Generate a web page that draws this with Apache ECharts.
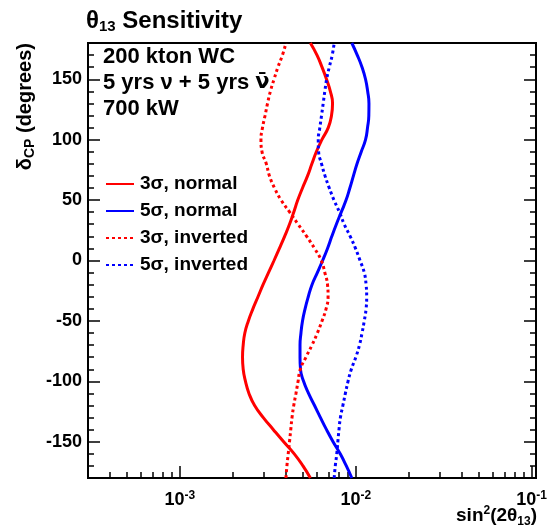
<!DOCTYPE html>
<html>
<head>
<meta charset="utf-8">
<script src="https://cdn.jsdelivr.net/npm/echarts@6/dist/echarts.min.js"></script>
<style>
  html, body { margin: 0; padding: 0; background: #fff; }
  #chart { width: 552px; height: 529px; }
</style>
</head>
<body>
<div id="chart"></div>
<script>
// delta_CP grid (degrees) and sin^2(2theta13) sensitivity
const deltaCP = [-180, -170, -160, -150, -140, -130, -120, -110, -100, -90, -80, -70, -60, -50, -40, -30, -20, -10, 0,
  10, 20, 30, 40, 50, 60, 70, 80, 90, 100, 110, 120, 130, 140, 150, 160, 170, 180]
const sens3Normal = [5.52e-3, 5.01e-3, 4.47e-3, 3.89e-3, 3.40e-3, 2.98e-3, 2.66e-3, 2.47e-3, 2.36e-3, 2.29e-3, 2.27e-3, 2.29e-3, 2.34e-3, 2.45e-3, 2.60e-3, 2.78e-3, 2.97e-3, 3.19e-3, 3.43e-3,
  3.68e-3, 3.94e-3, 4.20e-3, 4.44e-3, 4.68e-3, 4.98e-3, 5.32e-3, 5.63e-3, 5.97e-3, 6.42e-3, 6.98e-3, 7.28e-3, 7.38e-3, 7.17e-3, 6.82e-3, 6.43e-3, 6.02e-3, 5.52e-3]
const sens5Normal = [9.50e-3, 8.84e-3, 8.16e-3, 7.43e-3, 6.82e-3, 6.30e-3, 5.83e-3, 5.39e-3, 5.05e-3, 4.85e-3, 4.82e-3, 4.82e-3, 4.88e-3, 4.98e-3, 5.15e-3, 5.37e-3, 5.64e-3, 6.05e-3, 6.48e-3,
  6.91e-3, 7.31e-3, 7.76e-3, 8.27e-3, 8.81e-3, 9.26e-3, 9.70e-3, 1.017e-2, 1.075e-2, 1.137e-2, 1.167e-2, 1.187e-2, 1.189e-2, 1.169e-2, 1.137e-2, 1.086e-2, 1.020e-2, 9.50e-3]
const sens3Inverted = [4.01e-3, 4.06e-3, 4.13e-3, 4.20e-3, 4.27e-3, 4.34e-3, 4.44e-3, 4.57e-3, 4.70e-3, 4.84e-3, 5.21e-3, 5.64e-3, 6.05e-3, 6.43e-3, 6.78e-3, 6.96e-3, 6.91e-3, 6.67e-3, 6.37e-3,
  5.83e-3, 5.26e-3, 4.70e-3, 4.21e-3, 3.76e-3, 3.45e-3, 3.23e-3, 3.10e-3, 2.93e-3, 2.89e-3, 2.95e-3, 3.05e-3, 3.15e-3, 3.27e-3, 3.43e-3, 3.61e-3, 3.83e-3, 4.01e-3]
const sens5Inverted = [7.54e-3, 7.65e-3, 7.80e-3, 7.91e-3, 8.03e-3, 8.18e-3, 8.45e-3, 8.73e-3, 9.04e-3, 9.44e-3, 1.001e-2, 1.050e-2, 1.086e-2, 1.118e-2, 1.145e-2, 1.154e-2, 1.145e-2, 1.118e-2, 1.058e-2,
  9.97e-3, 9.30e-3, 8.60e-3, 8.08e-3, 7.52e-3, 7.07e-3, 6.69e-3, 6.39e-3, 6.15e-3, 6.12e-3, 6.25e-3, 6.39e-3, 6.53e-3, 6.67e-3, 6.83e-3, 7.07e-3, 7.35e-3, 7.54e-3]

const seriesNames = ['3σ, normal', '5σ, normal', '3σ, inverted', '5σ, inverted']

// axis ticks
const xMajorTicks = [1e-3, 1e-2, 1e-1]
const xMinorTicks = [4e-4, 5e-4, 6e-4, 7e-4, 8e-4, 9e-4, 2e-3, 3e-3, 4e-3, 5e-3, 6e-3, 7e-3, 8e-3, 9e-3, 2e-2, 3e-2, 4e-2, 5e-2, 6e-2, 7e-2, 8e-2, 9e-2]
const yMajorTicks = [-150, -100, -50, 0, 50, 100, 150]
const yMinorTicks = [-180, -170, -160, -140, -130, -120, -110, -90, -80, -70, -60, -40, -30, -20, -10, 10, 20, 30, 40, 60, 70, 80, 90, 110, 120, 130, 140, 160, 170, 180]

const FONT = '"Liberation Sans", Arial, Helvetica, sans-serif'

const chart = echarts.init(document.getElementById('chart'))

const toPoints = vals => vals.map((v, i) => [v, deltaCP[i]])

const makeX = (ticks, len, labels) => ({
  type: 'log',
  logBase: 10,
  min: 3e-4,
  max: 0.106,
  position: 'bottom',
  axisLine: { show: false, onZero: false },
  splitLine: { show: false },
  axisTick: { show: true, inside: true, length: len, customValues: ticks, lineStyle: { color: '#000', width: 1.5 } },
  axisLabel: labels ? {
    show: true,
    customValues: ticks,
    margin: 12,
    formatter: v => '{b|10}{e|' + Math.round(Math.log10(v)) + '}',
    rich: {
      b: { fontFamily: FONT, fontWeight: 'bold', fontSize: 18, color: '#000' },
      e: { fontFamily: FONT, fontWeight: 'bold', fontSize: 12, color: '#000', padding: [0, 0, 9, 0] }
    }
  } : { show: false },
  minorTick: { show: false }
})

const makeY = (ticks, len, pos, labels) => ({
  type: 'value',
  min: -180,
  max: 180,
  position: pos,
  axisLine: { show: false, onZero: false },
  splitLine: { show: false },
  axisTick: { show: true, inside: true, length: len, customValues: ticks, lineStyle: { color: '#000', width: 1.5 } },
  axisLabel: labels ? {
    show: true,
    customValues: ticks,
    margin: 6,
    fontFamily: FONT,
    fontWeight: 'bold',
    fontSize: 18,
    color: '#000'
  } : { show: false }
})

const makeLine = (name, vals, color, dotted) => ({
  name,
  type: 'line',
  data: toPoints(vals),
  smooth: 0.5,
  symbol: 'none',
  lineStyle: { color, width: 3, type: dotted ? [3, 3] : 'solid' },
  itemStyle: { color }
})

const option = {
  animation: false,
  backgroundColor: '#fff',
  title: {
    text: '{t|θ}{s|13}{t| Sensitivity}',
    left: 81,
    top: 3,
    textStyle: {
      rich: {
        t: { fontFamily: FONT, fontWeight: 'bold', fontSize: 24, color: '#000' },
        s: { fontFamily: FONT, fontWeight: 'bold', fontSize: 15, color: '#000', padding: [11, 0, 0, 0] }
      }
    }
  },
  grid: {
    left: 88,
    right: 16,
    top: 43,
    bottom: 51,
    show: true,
    borderColor: '#000',
    borderWidth: 2,
    backgroundColor: 'transparent'
  },
  legend: {
    orient: 'vertical',
    left: 105,
    top: 174,
    padding: 0,
    itemWidth: 28,
    itemHeight: 14,
    itemGap: 7,
    data: seriesNames,
    itemStyle: { opacity: 0 },
    textStyle: { fontFamily: FONT, fontWeight: 'bold', fontSize: 19, color: '#000', lineHeight: 20, padding: [0, 0, 0, 1] }
  },
  xAxis: [
    makeX(xMajorTicks, 12, true),
    makeX(xMinorTicks, 6, false)
  ],
  yAxis: [
    makeY(yMajorTicks, 12, 'left', true),
    makeY(yMinorTicks, 6, 'left', false),
    makeY(yMajorTicks, 12, 'right', false),
    makeY(yMinorTicks, 6, 'right', false)
  ],
  series: [
    makeLine(seriesNames[0], sens3Normal, '#ff0000', false),
    makeLine(seriesNames[1], sens5Normal, '#0000ff', false),
    makeLine(seriesNames[2], sens3Inverted, '#ff0000', true),
    makeLine(seriesNames[3], sens5Inverted, '#0000ff', true)
  ],
  graphic: [
    {
      type: 'text',
      x: 103,
      y: 44,
      style: {
        text: '{t|200 kton WC}\n{t|5 yrs ν + 5 yrs }{n|ν\u0304}\n{t|700 kW}',
        rich: {
          t: { fontFamily: FONT, fontWeight: 'bold', fontSize: 22, lineHeight: 26, fill: '#000' },
          n: { fontFamily: '"DejaVu Sans"', fontWeight: 'bold', fontSize: 21, lineHeight: 26, fill: '#000' }
        }
      }
    },
    {
      type: 'text',
      x: 25,
      y: 43,
      rotation: Math.PI / 2,
      style: {
        text: '{d|δ}{s|CP}{d| (degrees)}',
        align: 'right',
        verticalAlign: 'middle',
        rich: {
          d: { fontFamily: FONT, fontWeight: 'bold', fontSize: 20, fill: '#000' },
          s: { fontFamily: FONT, fontWeight: 'bold', fontSize: 14, fill: '#000', padding: [11, 0, 0, 0] }
        }
      }
    },
    {
      type: 'text',
      x: 537,
      y: 516,
      style: {
        text: '{n|sin}{p|2}{n|(2θ}{s|13}{n|)}',
        align: 'right',
        verticalAlign: 'middle',
        rich: {
          n: { fontFamily: FONT, fontWeight: 'bold', fontSize: 19, fill: '#000' },
          p: { fontFamily: FONT, fontWeight: 'bold', fontSize: 12, fill: '#000', padding: [0, 0, 10, 0] },
          s: { fontFamily: FONT, fontWeight: 'bold', fontSize: 12, fill: '#000', padding: [12, 0, 0, 0] }
        }
      }
    }
  ]
}

chart.setOption(option)
</script>
</body>
</html>
